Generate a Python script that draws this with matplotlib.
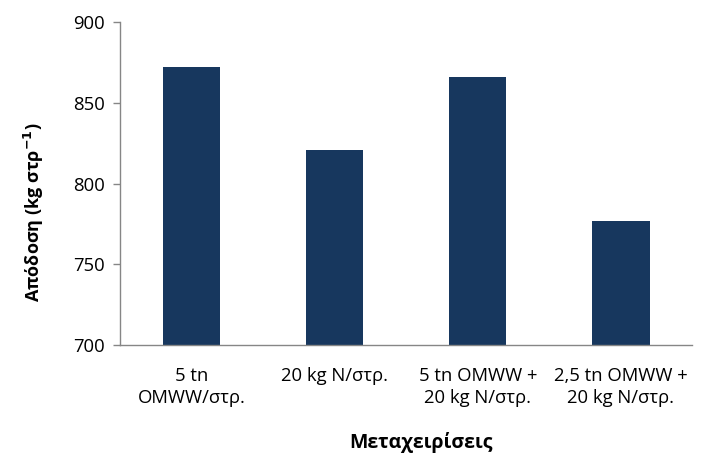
import numpy as np
import matplotlib
matplotlib.use("Agg")
import matplotlib.pyplot as plt

plt.rcParams["font.family"] = ["Open Sans", "DejaVu Sans"]

# data
treatments = ["5 tn\nOMWW/στρ.", "20 kg N/στρ.",
              "5 tn OMWW +\n20 kg N/στρ.", "2,5 tn OMWW +\n20 kg N/στρ."]
yield_kg = [872, 821, 866, 777]
yticks = [700, 750, 800, 850, 900]

BAR = "#17375E"
AXIS = "#868686"

fig = plt.figure(figsize=(7.16, 4.67), dpi=100)
ax = fig.add_axes([0.1676, 0.2612, 0.7995, 0.6917])

x = np.arange(len(treatments))
ax.bar(x, yield_kg, 0.4, color=BAR)
ax.set_xlim(-0.5, len(treatments) - 0.5)
ax.set_ylim(700, 900)
ax.set_yticks(yticks)
ax.set_xticks(x)
ax.set_xticklabels(treatments, fontsize=13.3, linespacing=1.25)
ax.tick_params(axis="y", labelsize=13.3, length=5, color=AXIS, width=1, pad=6)
ax.tick_params(axis="x", length=0, pad=16)

for s in ("top", "right"):
    ax.spines[s].set_visible(False)
for s in ("left", "bottom"):
    ax.spines[s].set_color(AXIS)
    ax.spines[s].set_linewidth(1)

fig.text(0.048, 0.545, r"Απόδοση (kg στρ$^{\mathbf{-1}}$)", rotation=90,
         ha="center", va="center", fontsize=13, fontweight="bold")
fig.text(0.588, 0.053, "Μεταχειρίσεις", ha="center", va="center",
         fontsize=14, fontweight="bold")

fig.savefig("out.png", dpi=100)
